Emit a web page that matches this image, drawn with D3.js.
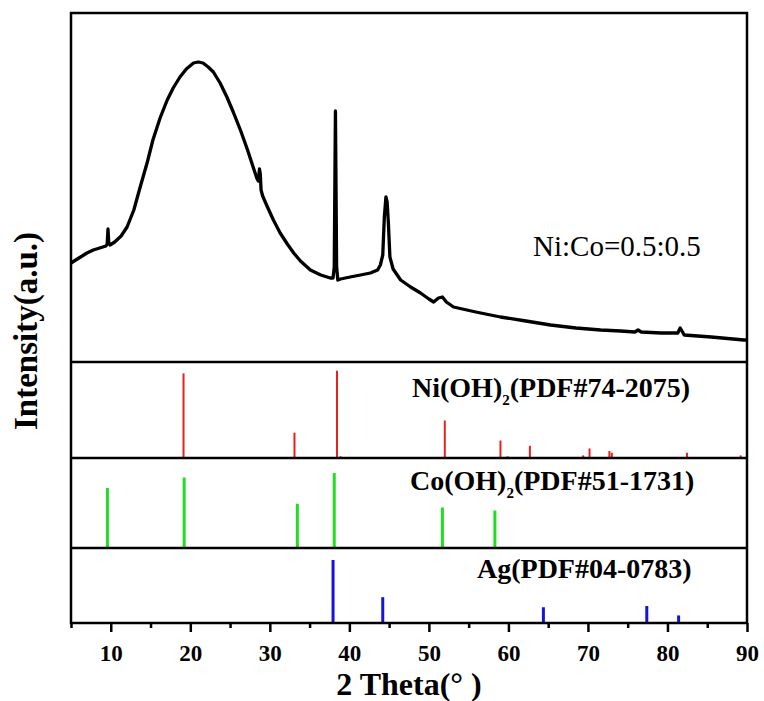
<!DOCTYPE html>
<html>
<head>
<meta charset="utf-8">
<script src="https://cdn.jsdelivr.net/npm/d3@7"></script>
<style>
body { margin: 0; background: #fff; }
text { font-family: "Liberation Serif", "Times New Roman", serif; }
</style>
</head>
<body>
<div id="chart"></div>
<script>
const WIDTH = 764, HEIGHT = 701;
const LEFT = 71, RIGHT = 747, TOP = 13;
const MAIN_BOTTOM = 362, NI_BOTTOM = 458, CO_BOTTOM = 548, AXIS_Y = 623;

// measured pattern, 2theta vs intensity (a.u.)
const sampleTheta = [5.0, 6.0, 7.0, 7.8, 8.6, 9.4, 9.55, 9.65, 9.75, 9.9, 10.5, 11.3, 12.05, 12.9, 13.7,
  14.6, 15.3, 16.2, 17.1, 17.85, 18.7, 19.5, 20.4, 21.0, 21.6, 22.25, 22.9, 23.75, 24.6, 25.4, 26.3,
  27.2, 27.9, 28.4, 28.55, 28.7, 28.8, 28.9, 29.1, 29.7, 30.45, 31.3, 32.2, 33.0, 33.85, 35.1, 36.4,
  37.6, 37.95, 38.1, 38.2, 38.25, 38.3, 38.4, 38.55, 38.9, 40.1, 41.4, 42.65, 43.55, 43.9, 44.2, 44.4,
  44.6, 44.75, 44.9, 45.1, 45.5, 46.45, 47.7, 48.95, 50.0, 50.6, 51.2, 51.7, 52.2, 53.1, 55.9, 59.0,
  62.2, 65.3, 68.5, 71.6, 74.1, 75.9, 76.3, 76.7, 79.2, 81.3, 81.6, 81.9, 82.1, 85.5, 89.6, 90.0];
const sampleIntensity = [99, 104, 109, 112, 114, 116, 118, 133, 119, 117, 120, 126, 135, 152, 175,
  200, 222, 244, 262, 274, 285, 293, 299, 300, 299, 295, 290, 279, 265, 250, 232,
  212, 195, 183, 181, 193, 188, 172, 166, 155, 142, 129, 118, 109, 101, 92, 87,
  84, 84, 95, 200, 251, 200, 95, 82, 83, 85, 87, 89, 92, 97, 107, 145,
  165, 160, 140, 105, 93, 82, 75, 69, 63, 60, 64, 65, 60, 55, 50, 45,
  41, 37, 34, 32, 31, 30, 32, 30, 29, 29, 34, 30, 27, 25, 22, 22];

// reference cards
const niTheta = [19.15, 33.1, 38.45, 38.9, 52.0, 59.0, 59.9, 62.7, 69.4, 70.2, 72.7, 73.0, 82.45, 89.2];
const niIntensity = [97, 29, 100, 2, 43, 20, 2, 14, 3, 11, 8, 6, 6, 3];
const coTheta = [9.58, 19.23, 33.46, 38.1, 51.7, 58.3];
const coIntensity = [80, 94, 59, 100, 54, 50];
const agTheta = [37.95, 44.2, 64.4, 77.4, 81.4];
const agIntensity = [100, 41, 25, 27, 12];

const majorTicks = [10, 20, 30, 40, 50, 60, 70, 80, 90];
const minorTicks = [5, 15, 25, 35, 45, 55, 65, 75, 85];

const svg = d3.select("#chart").append("svg")
  .attr("width", WIDTH).attr("height", HEIGHT);

const x = d3.scaleLinear().domain([5, 90]).range([LEFT, RIGHT]);
const yMain = d3.scaleLinear().domain([0, 349]).range([MAIN_BOTTOM, TOP]);
const yNi = d3.scaleLinear().domain([0, 110]).range([NI_BOTTOM, MAIN_BOTTOM]);
const yCo = d3.scaleLinear().domain([0, 120]).range([CO_BOTTOM, NI_BOTTOM]);
const yAg = d3.scaleLinear().domain([0, 119]).range([AXIS_Y, CO_BOTTOM]);

// sticks
function drawSticks(theta, inten, y, color, width) {
  svg.append("g").selectAll("line")
    .data(theta.map((t, i) => [t, inten[i]]))
    .join("line")
    .attr("x1", d => x(d[0])).attr("x2", d => x(d[0]))
    .attr("y1", y(0)).attr("y2", d => y(d[1]))
    .attr("stroke", color).attr("stroke-width", width);
}
drawSticks(niTheta, niIntensity, yNi, "#e8201e", 2);
drawSticks(coTheta, coIntensity, yCo, "#22dd22", 3);
drawSticks(agTheta, agIntensity, yAg, "#1414dc", 3);

// main curve
const line = d3.line().x(d => x(d[0])).y(d => yMain(d[1]));
svg.append("path")
  .datum(sampleTheta.map((t, i) => [t, sampleIntensity[i]]))
  .attr("d", line)
  .attr("fill", "none").attr("stroke", "#000")
  .attr("stroke-width", 3.3).attr("stroke-linejoin", "round");

// frame and panel dividers
svg.append("rect")
  .attr("x", LEFT).attr("y", TOP)
  .attr("width", RIGHT - LEFT).attr("height", AXIS_Y - TOP)
  .attr("fill", "none").attr("stroke", "#000").attr("stroke-width", 2.5);
[MAIN_BOTTOM, NI_BOTTOM, CO_BOTTOM].forEach(yy => {
  svg.append("line")
    .attr("x1", LEFT).attr("x2", RIGHT).attr("y1", yy).attr("y2", yy)
    .attr("stroke", "#000").attr("stroke-width", 2.5);
});

// x axis
const axisMajor = svg.append("g")
  .attr("transform", "translate(0," + AXIS_Y + ")")
  .call(d3.axisBottom(x).tickValues(majorTicks).tickSize(9).tickPadding(5).tickFormat(d3.format("d")));
axisMajor.select(".domain").remove();
axisMajor.selectAll("line").attr("stroke-width", 2.5);
axisMajor.selectAll("text")
  .attr("font-size", 23).attr("font-weight", "bold")
  .attr("font-family", "Liberation Serif, serif").attr("fill", "#000")
  .attr("dy", null).attr("y", 38);

const axisMinor = svg.append("g")
  .attr("transform", "translate(0," + AXIS_Y + ")")
  .call(d3.axisBottom(x).tickValues(minorTicks).tickSize(5).tickFormat(""));
axisMinor.select(".domain").remove();
axisMinor.selectAll("line").attr("stroke-width", 2.5);

// axis titles
svg.append("text")
  .attr("x", 409).attr("y", 695)
  .attr("text-anchor", "middle")
  .attr("font-size", 32).attr("font-weight", "bold")
  .text("2 Theta(° )");

svg.append("text")
  .attr("transform", "translate(37,331) rotate(-90)")
  .attr("text-anchor", "middle")
  .attr("font-size", 33).attr("font-weight", "bold")
  .text("Intensity(a.u.)");

// labels
svg.append("text")
  .attr("x", 533).attr("y", 256)
  .attr("font-size", 29)
  .text("Ni:Co=0.5:0.5");

function cardLabel(xx, yy, parts) {
  const t = svg.append("text")
    .attr("x", xx).attr("y", yy)
    .attr("font-size", 28).attr("font-weight", "bold");
  parts.forEach(p => {
    const s = t.append("tspan").text(p[0]);
    if (p[1] === "sub") s.attr("font-size", 15).attr("dy", 8);
    if (p[1] === "back") s.attr("dy", -8);
  });
}
cardLabel(412, 397, [["Ni(OH)"], ["2", "sub"], ["(PDF#74-2075)", "back"]]);
cardLabel(410, 490, [["Co(OH)"], ["2", "sub"], ["(PDF#51-1731)", "back"]]);
cardLabel(477, 578, [["Ag(PDF#04-0783)"]]);
</script>
</body>
</html>
